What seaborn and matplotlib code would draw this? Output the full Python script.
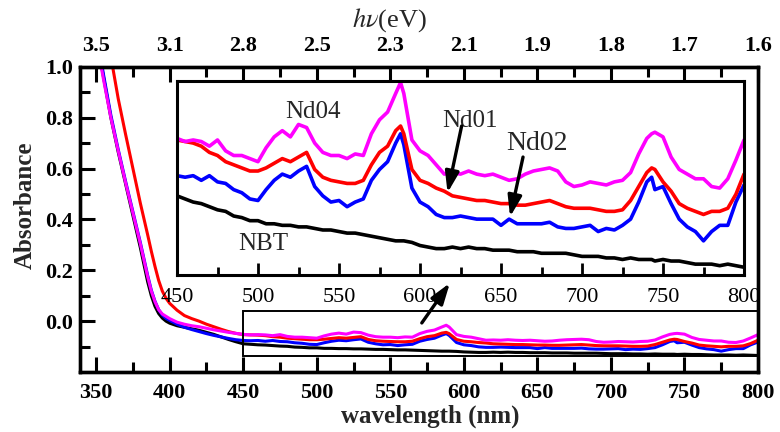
import matplotlib
matplotlib.use("Agg")
import matplotlib.pyplot as plt
from matplotlib.patches import Rectangle
from matplotlib.ticker import MultipleLocator, FixedLocator
import pandas as pd
import seaborn as sns

sns.set_theme(style="ticks")
plt.rcParams["font.family"] = ["Liberation Serif", "DejaVu Serif"]
plt.rcParams["mathtext.fontset"] = "stix"

# ---- UV absorption edge (nm, absorbance) ----
edge_nm = [340, 345, 350, 355, 360, 365, 370, 375, 380, 385, 387.5, 390, 392.5,
           395, 397.5, 400, 405, 410, 415, 420, 425, 430, 435, 440, 445]
edge_nbt = [1.47, 1.29, 1.12, 0.96, 0.80, 0.665, 0.54, 0.415, 0.29, 0.155, 0.100, 0.058, 0.030,
            0.012, 0.000, -0.008, -0.018, -0.024, -0.030, -0.036, -0.044, -0.052, -0.062, -0.072, -0.081]
edge_nd01 = [1.75, 1.58, 1.40, 1.22, 1.04, 0.875, 0.735, 0.60, 0.465, 0.34, 0.275, 0.215, 0.160,
             0.118, 0.090, 0.070, 0.043, 0.022, 0.010, 0.000, -0.012, -0.022, -0.032, -0.041, -0.048]
edge_nd02 = [1.48, 1.30, 1.14, 0.97, 0.81, 0.675, 0.55, 0.43, 0.31, 0.18, 0.122, 0.078, 0.045,
             0.024, 0.011, 0.003, -0.012, -0.024, -0.033, -0.041, -0.049, -0.056, -0.062, -0.068, -0.073]
edge_nd04 = [1.45, 1.27, 1.11, 0.95, 0.80, 0.67, 0.545, 0.425, 0.305, 0.175, 0.118, 0.076, 0.045,
             0.028, 0.019, 0.010, -0.004, -0.012, -0.018, -0.022, -0.028, -0.034, -0.039, -0.044, -0.048]

# ---- visible range, also shown enlarged in the inset ----
vis_nm = [450, 455, 460, 465, 470, 475, 480, 485, 490, 495, 500, 505, 510, 515, 520,
          525, 530, 535, 540, 545, 550, 555, 560, 565, 570, 575, 580, 585, 588, 590,
          595, 600, 605, 610, 615, 620, 625, 630, 635, 640, 645, 650, 655, 660, 665,
          670, 675, 680, 685, 690, 695, 700, 705, 710, 715, 720, 725, 730, 735, 740,
          743, 745, 750, 755, 760, 765, 770, 775, 780, 785, 790, 795, 800]
vis_nd04 = [-0.052, -0.054, -0.053, -0.054, -0.057, -0.053, -0.060, -0.063, -0.063, -0.065,
            -0.067, -0.058, -0.051, -0.047, -0.051, -0.043, -0.045, -0.055, -0.061, -0.063,
            -0.063, -0.065, -0.062, -0.063, -0.049, -0.040, -0.035, -0.023, -0.016, -0.023,
            -0.053, -0.060, -0.063, -0.069, -0.075, -0.074, -0.075, -0.073, -0.075, -0.076,
            -0.075, -0.077, -0.079, -0.078, -0.075, -0.073, -0.072, -0.071, -0.073, -0.080,
            -0.083, -0.082, -0.080, -0.081, -0.082, -0.080, -0.079, -0.074, -0.062, -0.052,
            -0.049, -0.048, -0.051, -0.064, -0.072, -0.075, -0.078, -0.078, -0.083, -0.084,
            -0.078, -0.066, -0.053]
vis_nd01 = [-0.053, -0.054, -0.055, -0.057, -0.061, -0.063, -0.067, -0.069, -0.071, -0.073,
            -0.073, -0.071, -0.068, -0.065, -0.067, -0.064, -0.061, -0.072, -0.077, -0.079,
            -0.080, -0.081, -0.081, -0.079, -0.069, -0.061, -0.057, -0.047, -0.044, -0.049,
            -0.072, -0.079, -0.081, -0.084, -0.086, -0.089, -0.090, -0.091, -0.092, -0.092,
            -0.093, -0.094, -0.094, -0.095, -0.095, -0.094, -0.093, -0.092, -0.094, -0.096,
            -0.097, -0.097, -0.097, -0.098, -0.099, -0.099, -0.098, -0.092, -0.083, -0.074,
            -0.071, -0.072, -0.080, -0.086, -0.094, -0.097, -0.099, -0.101, -0.099, -0.099,
            -0.097, -0.088, -0.075]
vis_nd02 = [-0.076, -0.077, -0.076, -0.079, -0.076, -0.080, -0.081, -0.085, -0.087, -0.091,
            -0.092, -0.085, -0.079, -0.075, -0.077, -0.073, -0.070, -0.083, -0.089, -0.093,
            -0.092, -0.096, -0.093, -0.091, -0.079, -0.072, -0.067, -0.055, -0.049, -0.056,
            -0.084, -0.093, -0.096, -0.101, -0.103, -0.103, -0.102, -0.103, -0.104, -0.104,
            -0.104, -0.108, -0.104, -0.107, -0.107, -0.107, -0.107, -0.106, -0.109, -0.110,
            -0.110, -0.109, -0.108, -0.112, -0.110, -0.111, -0.108, -0.104, -0.093, -0.080,
            -0.077, -0.085, -0.083, -0.094, -0.104, -0.109, -0.112, -0.118, -0.112, -0.108,
            -0.108, -0.093, -0.082]
vis_nbt = [-0.089, -0.091, -0.093, -0.094, -0.096, -0.098, -0.099, -0.102, -0.103, -0.105,
           -0.105, -0.107, -0.107, -0.108, -0.108, -0.109, -0.109, -0.110, -0.111, -0.111,
           -0.112, -0.113, -0.113, -0.114, -0.115, -0.116, -0.117, -0.118, -0.118, -0.118,
           -0.119, -0.121, -0.122, -0.123, -0.123, -0.122, -0.123, -0.122, -0.123, -0.123,
           -0.124, -0.124, -0.124, -0.125, -0.125, -0.125, -0.126, -0.126, -0.126, -0.126,
           -0.127, -0.128, -0.128, -0.128, -0.129, -0.129, -0.130, -0.129, -0.130, -0.130,
           -0.130, -0.131, -0.130, -0.131, -0.131, -0.132, -0.133, -0.133, -0.133, -0.134,
           -0.133, -0.134, -0.135]

samples = ["NBT", "Nd02", "Nd01", "Nd04"]
colors = {"NBT": "#000000", "Nd02": "#0000ff", "Nd01": "#ff0000", "Nd04": "#ff00ff"}

# eV labels on the top axis at the 50 nm ticks
nm_major = [350, 400, 450, 500, 550, 600, 650, 700, 750, 800]
ev_labels = ["3.5", "3.1", "2.8", "2.5", "2.3", "2.1", "1.9", "1.8", "1.7", "1.6"]

edge = {"NBT": edge_nbt, "Nd01": edge_nd01, "Nd02": edge_nd02, "Nd04": edge_nd04}
vis = {"NBT": vis_nbt, "Nd01": vis_nd01, "Nd02": vis_nd02, "Nd04": vis_nd04}

full = pd.concat([pd.DataFrame({"wavelength": edge_nm + vis_nm,
                                "absorbance": edge[s] + vis[s],
                                "sample": s}) for s in samples], ignore_index=True)
zoom = pd.concat([pd.DataFrame({"wavelength": vis_nm,
                                "absorbance": vis[s],
                                "sample": s}) for s in samples], ignore_index=True)

W, H = 780, 432
fig = plt.figure(figsize=(W / 100, H / 100), dpi=100)
ax = fig.add_axes([80 / W, 60 / H, 678 / W, 305 / H])

sns.lineplot(data=full, x="wavelength", y="absorbance", hue="sample",
             hue_order=samples, palette=colors, sort=False, estimator=None,
             linewidth=2.2, legend=False, ax=ax)
ax.set_xlim(339, 800)
ax.set_ylim(-0.2, 1.0)
ax.set_xlabel("")
ax.set_ylabel("")

SPINE = 2.4
for sp in ax.spines.values():
    sp.set_linewidth(SPINE)
    sp.set_color("black")

ax.xaxis.set_major_locator(FixedLocator(nm_major))
ax.xaxis.set_minor_locator(MultipleLocator(25))
ax.yaxis.set_major_locator(FixedLocator([0.0, 0.2, 0.4, 0.6, 0.8, 1.0]))
ax.yaxis.set_minor_locator(FixedLocator([-0.1, 0.1, 0.3, 0.5, 0.7, 0.9]))
ax.set_yticklabels(["0.0", "0.2", "0.4", "0.6", "0.8", "1.0"], fontweight="bold")
ax.set_xticklabels([str(v) for v in nm_major], fontweight="bold")
ax.tick_params(axis="both", which="both", direction="in", top=False, right=False,
               colors="black", labelsize=16)
ax.tick_params(axis="both", which="major", length=11, width=2.2)
ax.tick_params(axis="both", which="minor", length=7, width=2.2)
ax.tick_params(axis="x", which="major", pad=8)
ax.tick_params(axis="y", which="major", pad=5)

# top axis in photon energy
top = ax.twiny()
top.set_xlim(ax.get_xlim())
top.xaxis.set_major_locator(FixedLocator(nm_major))
top.xaxis.set_minor_locator(MultipleLocator(25))
top.set_xticklabels(ev_labels, fontweight="bold")
top.tick_params(axis="x", which="both", direction="in", colors="black", labelsize=16)
top.tick_params(axis="x", which="major", length=11, width=2.2, pad=8)
top.tick_params(axis="x", which="minor", length=7, width=2.2)
for sp in top.spines.values():
    sp.set_linewidth(SPINE)
    sp.set_color("black")

fig.text(389 / W, 1 - 20 / H, r"$h\nu$(eV)", ha="center", va="center", fontsize=19)
fig.text(25 / W, 1 - 205 / H, "Absorbance", rotation=90, ha="center", va="center",
         fontsize=18, fontweight="bold")
fig.text(430 / W, 1 - 416 / H, "wavelength (nm)", ha="center", va="center",
         fontsize=18, fontweight="bold")

# frame around the enlarged region
ax.add_patch(Rectangle((450, -0.137), 350, 0.177, fill=False, edgecolor="black",
                       linewidth=1.4, clip_on=False, zorder=5))

# ---- inset ----
ins = fig.add_axes([177 / W, (H - 275) / H, 567 / W, 194 / H])
sns.lineplot(data=zoom, x="wavelength", y="absorbance", hue="sample",
             hue_order=samples, palette=colors, sort=False, estimator=None,
             linewidth=2.6, legend=False, ax=ins)
ins.set_xlim(450, 800)
ins.set_ylim(-0.140, -0.015)
ins.set_xlabel("")
ins.set_ylabel("")
ins.set_facecolor("white")
for sp in ins.spines.values():
    sp.set_linewidth(2.2)
    sp.set_color("black")
ins.xaxis.set_major_locator(MultipleLocator(50))
ins.xaxis.set_minor_locator(MultipleLocator(25))
ins.set_yticks([])
ins.tick_params(axis="x", which="both", direction="in", colors="black", labelsize=16, pad=9)
ins.tick_params(axis="x", which="major", length=9, width=2.0)
ins.tick_params(axis="x", which="minor", length=6, width=2.0)

ins.text(534, -0.035, "Nd04", ha="center", va="center", fontsize=18)
ins.text(631, -0.041, "Nd01", ha="center", va="center", fontsize=18)
ins.text(672, -0.055, "Nd02", ha="center", va="center", fontsize=20)
ins.text(503, -0.120, "NBT", ha="center", va="center", fontsize=18)

arrow = dict(arrowstyle="-|>,head_length=0.9,head_width=0.3", color="black",
             lw=2.4, shrinkA=0, shrinkB=0, mutation_scale=14)
ins.annotate("", xy=(617, -0.087), xytext=(625.7, -0.044), arrowprops=arrow)
ins.annotate("", xy=(655.6, -0.1025), xytext=(663.6, -0.064), arrowprops=arrow)

# arrow from the framed region up to the inset
ins.annotate("", xy=(590.5, 0.150), xytext=(571.4, -0.007),
             xycoords=ax.transData, textcoords=ax.transData,
             annotation_clip=False, arrowprops=arrow, zorder=10)

fig.savefig("out.png", dpi=100)
